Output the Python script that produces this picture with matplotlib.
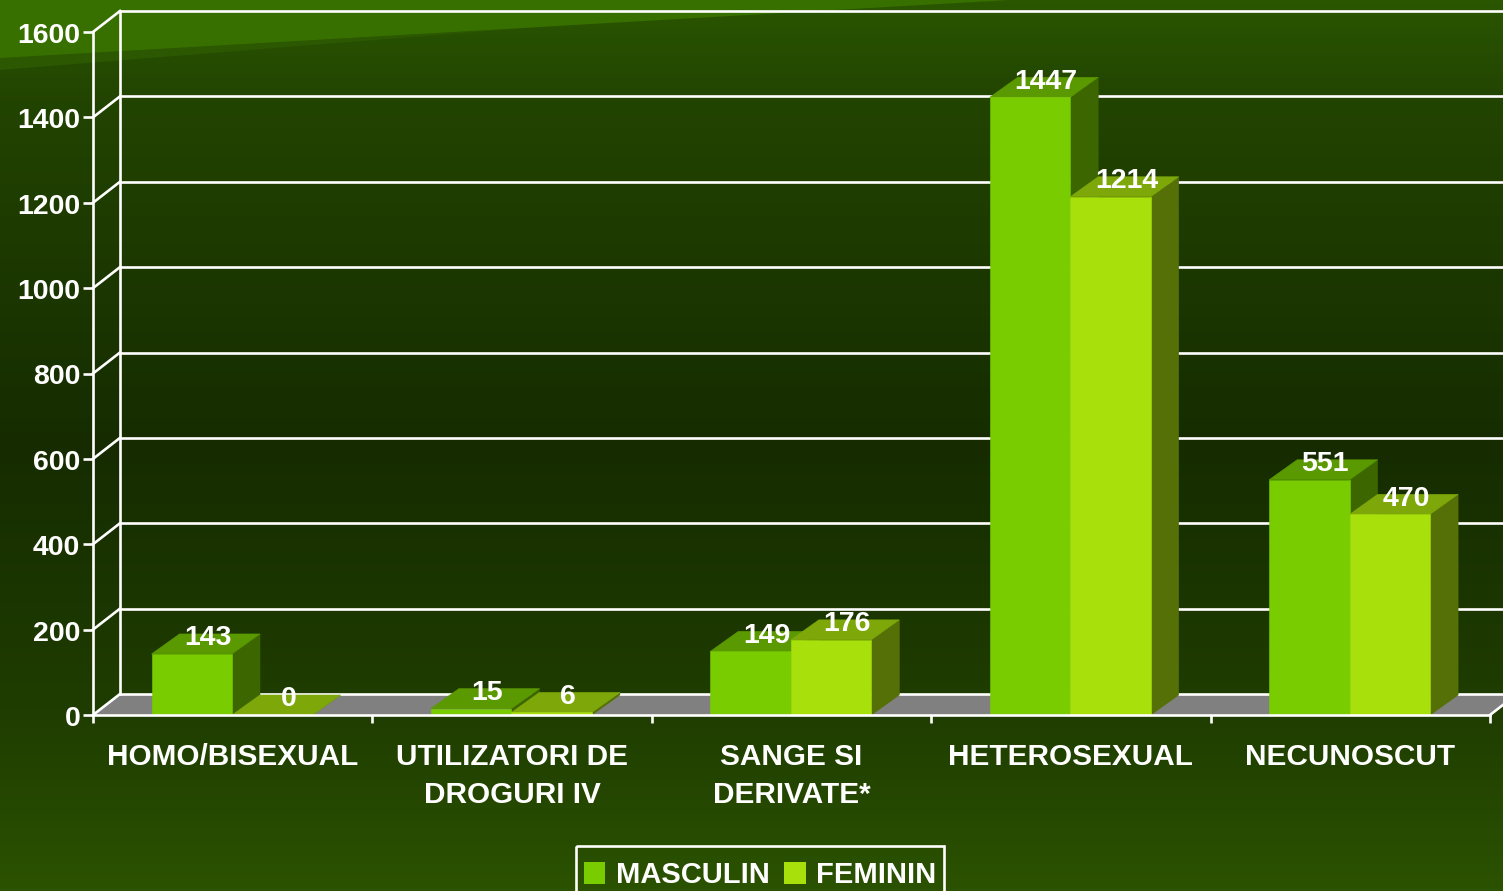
import numpy as np
import matplotlib
matplotlib.use("Agg")
import matplotlib.pyplot as plt
from matplotlib.colors import LinearSegmentedColormap
from matplotlib.patches import Polygon, Rectangle, Patch
from matplotlib.transforms import ScaledTranslation

categories = ["HOMO/BISEXUAL", "UTILIZATORI DE\nDROGURI IV", "SANGE SI\nDERIVATE*", "HETEROSEXUAL", "NECUNOSCUT"]
masculin = [143, 15, 149, 1447, 551]
feminin = [0, 6, 176, 1214, 470]
yticks = [0, 200, 400, 600, 800, 1000, 1200, 1400, 1600]
series_names = ["MASCULIN", "FEMININ"]

W, H = 1503, 891
plt.rcParams["font.family"] = ["Liberation Sans", "DejaVu Sans"]
plt.rcParams["font.weight"] = "bold"
fig = plt.figure(figsize=(W / 100, H / 100), dpi=100)

# background: vertical gradient plus two light wedges, in pixel space
bg = fig.add_axes([0, 0, 1, 1], zorder=0)
bg.set_xlim(0, W); bg.set_ylim(H, 0); bg.axis("off")
cmap = LinearSegmentedColormap.from_list("bg", [
    (0.0, "#2a5600"), (0.11, "#224400"), (0.5, "#162c00"),
    (0.8, "#1f3d00"), (1.0, "#2b5200")])
bg.imshow(np.linspace(0, 1, 256)[:, None], cmap=cmap, extent=[0, W, H, 0], aspect="auto", vmin=0, vmax=1)
bg.add_patch(Polygon([(0, 0), (875, 0), (0, 70)], fc="#2b5800", ec="none"))
bg.add_patch(Polygon([(0, 0), (1009, 0), (0, 58)], fc="#387000", ec="none"))
# legend frame runs off the bottom edge of the picture
bg.add_patch(Rectangle((576, 846), 368, 60, fc="none", ec="white", lw=1.9, clip_on=True))

# chart
L, R, TOP, BOT = 93, 1490, 32, 715
ax = fig.add_axes([L / W, 1 - BOT / H, (R - L) / W, (BOT - TOP) / H], zorder=1)
ax.patch.set_alpha(0)
ax.set_xlim(0, 5); ax.set_ylim(0, 1600)
pxx = (R - L) / 5; pxy = (BOT - TOP) / 1600
DX, DY = 27 / pxx, 21 / pxy         # depth of walls
BDX, BDY = 28 / pxx, 20 / pxy       # depth of bars
BW = 80.5 / pxx
SHIFT = -0.7 / pxx
WHITE = dict(color="white", lw=1.9, solid_capstyle="projecting", clip_on=False)

# floor
ax.add_patch(Polygon([(0, 0), (DX, DY), (5 + DX, DY), (5, 0)], fc="#808080", ec="none", zorder=1, clip_on=False))
# walls
for v in yticks:
    ax.plot([DX, 5 + DX], [v + DY, v + DY], zorder=2, **WHITE)
    ax.plot([0, DX], [v, v + DY], zorder=2, **WHITE)
ax.plot([DX, DX], [DY, 1600 + DY], zorder=2, **WHITE)
ax.plot([5, 5 + DX], [0, DY], zorder=2, **WHITE)

def bar3d(x, v, front, top, side):
    ax.add_patch(Polygon([(x + BW, 0), (x + BW + BDX, BDY), (x + BW + BDX, v + BDY), (x + BW, v)], fc=side, ec=side, lw=0.4, zorder=3, clip_on=False))
    ax.add_patch(Polygon([(x, v), (x + BDX, v + BDY), (x + BW + BDX, v + BDY), (x + BW, v)], fc=top, ec=top, lw=0.4, zorder=3, clip_on=False))
    ax.add_patch(Rectangle((x, 0), BW, v, fc=front, ec=front, lw=0.4, zorder=3))

for i, (m, f) in enumerate(zip(masculin, feminin)):
    c = i + 0.5 + SHIFT
    bar3d(c - BW, m, "#78cc00", "#5a9900", "#3c6600")
    bar3d(c, f, "#a8e00c", "#7ea80a", "#547006")

for i, (m, f) in enumerate(zip(masculin, feminin)):
    c = i + 0.5 + SHIFT
    for x, v in ((c - BW, m), (c, f)):
        ax.annotate(str(v), (x + BW / 2, v), xytext=(16 * .72, 15.5 * .72), textcoords="offset points",
                    ha="center", va="center", color="white", fontsize=20.5, fontweight="bold", zorder=5)

for s in ("top", "right"):
    ax.spines[s].set_visible(False)
for s in ("left", "bottom"):
    ax.spines[s].set_color("white"); ax.spines[s].set_linewidth(1.9); ax.spines[s].set_zorder(4)
ax.set_yticks(yticks)
ax.set_xticks(range(6))
ax.set_xticklabels([])
ax.set_xticks(np.arange(5) + 0.5, labels=categories, minor=True)
ax.tick_params(axis="x", which="major", length=6, width=1.9, color="white")
ax.tick_params(axis="x", which="minor", length=0, pad=20, labelsize=21.4, labelcolor="white")
ax.tick_params(axis="y", length=7, width=1.9, color="white", pad=2.2, labelsize=20.5, labelcolor="white")
for t in ax.get_xticklabels(minor=True):
    t.set_linespacing(1.45); t.set_fontweight("bold")
down = ScaledTranslation(0, -1 / 100, fig.dpi_scale_trans)
for t in ax.get_yticklabels():
    t.set_transform(t.get_transform() + down)

handles = [Patch(fc="#78cc00", ec="none"), Patch(fc="#a8e00c", ec="none")]
leg = fig.legend(handles, series_names, ncol=2, loc="upper center", bbox_to_anchor=(760 / W, 1 - 845 / H),
                 frameon=False, fontsize=21,
                 labelcolor="white", handlelength=0.75, handleheight=0.75, handletextpad=0.35,
                 columnspacing=0.5, borderpad=0.55, borderaxespad=0)
leg.set_zorder(6)

fig.savefig("out.png", dpi=100)
